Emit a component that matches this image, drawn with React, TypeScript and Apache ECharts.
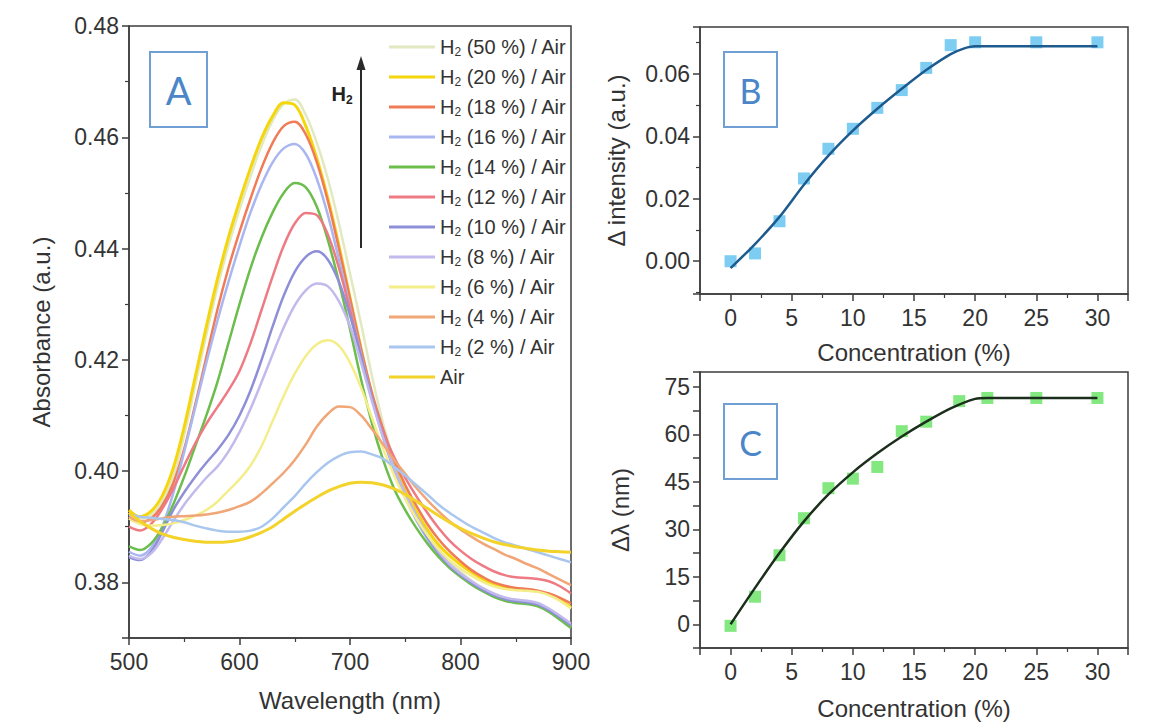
import React, { useEffect, useRef } from 'react';
import * as echarts from 'echarts';

// ---------- Panel A data ----------
const wavelengths = [500, 510, 520, 530, 540, 550, 560, 570, 580, 590, 600, 610, 620, 630, 640, 650, 660, 670, 680, 690, 700, 710, 720, 730, 740, 750, 760, 770, 780, 790, 800, 810, 820, 830, 840, 850, 860, 870, 880, 890, 900];

const abs50 = [0.3925, 0.3915, 0.3922, 0.3945, 0.3990, 0.4065, 0.4155, 0.4245, 0.4330, 0.4405, 0.4470, 0.4530, 0.4585, 0.4630, 0.4660, 0.4668, 0.4640, 0.4590, 0.4525, 0.4445, 0.4355, 0.4265, 0.4170, 0.4085, 0.4018, 0.3965, 0.3925, 0.3890, 0.3860, 0.3838, 0.3820, 0.3803, 0.3788, 0.3777, 0.3769, 0.3765, 0.3763, 0.3758, 0.3748, 0.3735, 0.3720];
const abs20 = [0.3930, 0.3918, 0.3928, 0.3955, 0.4005, 0.4080, 0.4170, 0.4260, 0.4345, 0.4420, 0.4485, 0.4545, 0.4598, 0.4638, 0.4662, 0.4658, 0.4620, 0.4562, 0.4490, 0.4405, 0.4312, 0.4220, 0.4135, 0.4065, 0.4010, 0.3965, 0.3928, 0.3895, 0.3868, 0.3848, 0.3832, 0.3818, 0.3806, 0.3797, 0.3791, 0.3788, 0.3786, 0.3784, 0.3778, 0.3768, 0.3755];
const abs18 = [0.3915, 0.3908, 0.3915, 0.3938, 0.3978, 0.4040, 0.4120, 0.4205, 0.4290, 0.4365, 0.4430, 0.4490, 0.4545, 0.4590, 0.4620, 0.4628, 0.4605, 0.4555, 0.4485, 0.4400, 0.4310, 0.4220, 0.4140, 0.4075, 0.4020, 0.3975, 0.3938, 0.3905, 0.3878, 0.3856, 0.3838, 0.3822, 0.3810, 0.3800, 0.3794, 0.3790, 0.3788, 0.3785, 0.3780, 0.3772, 0.3762];
const abs16 = [0.3855, 0.3848, 0.3862, 0.3900, 0.3960, 0.4035, 0.4115, 0.4195, 0.4270, 0.4340, 0.4405, 0.4465, 0.4515, 0.4555, 0.4580, 0.4588, 0.4570, 0.4525, 0.4460, 0.4380, 0.4295, 0.4210, 0.4130, 0.4060, 0.4000, 0.3952, 0.3912, 0.3878, 0.3850, 0.3828, 0.3812, 0.3798, 0.3786, 0.3776, 0.3769, 0.3765, 0.3763, 0.3759, 0.3749, 0.3736, 0.3722];
const abs14 = [0.3865, 0.3858, 0.3870, 0.3898, 0.3940, 0.3990, 0.4045, 0.4100, 0.4160, 0.4230, 0.4300, 0.4365, 0.4420, 0.4465, 0.4500, 0.4518, 0.4510, 0.4475, 0.4415, 0.4340, 0.4255, 0.4165, 0.4085, 0.4020, 0.3968, 0.3930, 0.3898, 0.3870, 0.3846, 0.3826, 0.3810, 0.3796, 0.3784, 0.3774, 0.3767, 0.3763, 0.3761, 0.3757, 0.3747, 0.3733, 0.3718];
const abs12 = [0.3900, 0.3893, 0.3905, 0.3932, 0.3968, 0.4010, 0.4050, 0.4085, 0.4115, 0.4145, 0.4180, 0.4230, 0.4290, 0.4350, 0.4405, 0.4445, 0.4464, 0.4460, 0.4425, 0.4365, 0.4290, 0.4205, 0.4130, 0.4070, 0.4025, 0.3988, 0.3955, 0.3925, 0.3898, 0.3875, 0.3857, 0.3842, 0.3830, 0.3820, 0.3813, 0.3809, 0.3808, 0.3806, 0.3802, 0.3793, 0.3780];
const abs10 = [0.3845, 0.3840, 0.3855, 0.3890, 0.3930, 0.3962, 0.3990, 0.4015, 0.4038, 0.4065, 0.4100, 0.4145, 0.4200, 0.4260, 0.4315, 0.4358, 0.4385, 0.4395, 0.4380, 0.4340, 0.4280, 0.4205, 0.4130, 0.4062, 0.4005, 0.3958, 0.3918, 0.3882, 0.3853, 0.3830, 0.3813, 0.3799, 0.3787, 0.3777, 0.3770, 0.3766, 0.3764, 0.3760, 0.3750, 0.3737, 0.3723];
const abs8 = [0.3848, 0.3842, 0.3852, 0.3878, 0.3910, 0.3940, 0.3965, 0.3988, 0.4008, 0.4035, 0.4070, 0.4112, 0.4160, 0.4210, 0.4258, 0.4298, 0.4325, 0.4337, 0.4332, 0.4305, 0.4260, 0.4195, 0.4125, 0.4060, 0.4005, 0.3960, 0.3921, 0.3885, 0.3856, 0.3833, 0.3816, 0.3802, 0.3790, 0.3780, 0.3773, 0.3769, 0.3767, 0.3763, 0.3753, 0.3740, 0.3726];
const abs6 = [0.3915, 0.3905, 0.3902, 0.3903, 0.3906, 0.3912, 0.3920, 0.3930, 0.3945, 0.3965, 0.3985, 0.4010, 0.4045, 0.4090, 0.4135, 0.4175, 0.4207, 0.4228, 0.4235, 0.4225, 0.4195, 0.4150, 0.4095, 0.4040, 0.3992, 0.3950, 0.3915, 0.3885, 0.3860, 0.3840, 0.3825, 0.3812, 0.3801, 0.3793, 0.3788, 0.3786, 0.3785, 0.3783, 0.3777, 0.3767, 0.3753];
const abs4 = [0.3918, 0.3910, 0.3912, 0.3915, 0.3918, 0.3919, 0.3920, 0.3922, 0.3925, 0.3930, 0.3937, 0.3945, 0.3960, 0.3978, 0.3997, 0.4020, 0.4048, 0.4080, 0.4103, 0.4116, 0.4115, 0.4100, 0.4075, 0.4048, 0.4020, 0.3995, 0.3970, 0.3948, 0.3928, 0.3910, 0.3895, 0.3882, 0.3870, 0.3860, 0.3850, 0.3842, 0.3833, 0.3825, 0.3815, 0.3805, 0.3795];
const abs2 = [0.3922, 0.3918, 0.3916, 0.3914, 0.3912, 0.3908, 0.3902, 0.3897, 0.3893, 0.3891, 0.3891, 0.3893, 0.3900, 0.3915, 0.3935, 0.3955, 0.3978, 0.3998, 0.4015, 0.4027, 0.4034, 0.4035, 0.4030, 0.4022, 0.4008, 0.3992, 0.3975, 0.3958, 0.3940, 0.3925, 0.3912, 0.3900, 0.3890, 0.3880, 0.3872, 0.3866, 0.3860, 0.3854, 0.3848, 0.3842, 0.3836];
const absAir = [0.3925, 0.3910, 0.3897, 0.3887, 0.3881, 0.3877, 0.3874, 0.3872, 0.3872, 0.3873, 0.3876, 0.3882, 0.3890, 0.3900, 0.3914, 0.3928, 0.3941, 0.3953, 0.3964, 0.3972, 0.3978, 0.3980, 0.3979, 0.3975, 0.3968, 0.3958, 0.3946, 0.3933, 0.3920, 0.3908, 0.3897, 0.3888, 0.3880, 0.3873, 0.3868, 0.3864, 0.3861, 0.3858, 0.3856, 0.3855, 0.3854];

const spectraNames = ['H2 (50 %) / Air', 'H2 (20 %) / Air', 'H2 (18 %) / Air', 'H2 (16 %) / Air', 'H2 (14 %) / Air', 'H2 (12 %) / Air', 'H2 (10 %) / Air', 'H2 (8 %) / Air', 'H2 (6 %) / Air', 'H2 (4 %) / Air', 'H2 (2 %) / Air', 'Air'];
const spectraValues = [abs50, abs20, abs18, abs16, abs14, abs12, abs10, abs8, abs6, abs4, abs2, absAir];
const spectraColors = ['#e2e8bf', '#f5d60c', '#f07c57', '#a9b6f0', '#6bbd4c', '#ee7a84', '#8f8fd8', '#c2b9ec', '#f3ee8a', '#f0a676', '#a9c7ee', '#f3d22a'];

// ---------- Panel B data ----------
const concB = [0, 2, 4, 6, 8, 10, 12, 14, 16, 18, 20, 25, 30];
const deltaIntensity = [0.0, 0.0025, 0.0128, 0.0265, 0.036, 0.0424, 0.0491, 0.0548, 0.0619, 0.0692, 0.0701, 0.0701, 0.0701];
const fitBx = [0, 2, 4, 6, 8, 10, 12, 14, 16, 18, 19, 20, 25, 30];
const fitBy = [-0.0022, 0.0055, 0.0142, 0.0245, 0.0338, 0.0418, 0.0488, 0.0552, 0.0612, 0.0663, 0.068, 0.0688, 0.0688, 0.0688];

// ---------- Panel C data ----------
const concC = [0, 2, 4, 6, 8, 10, 12, 14, 16, 18.7, 21, 25, 30];
const deltaLambda = [-0.5, 8.7, 21.8, 33.5, 43, 46, 49.7, 61, 64, 70.5, 71.5, 71.5, 71.5];
const fitCx = [0, 2, 4, 6, 8, 10, 12, 14, 16, 18, 20, 21, 25, 30];
const fitCy = [0, 11.5, 22.5, 32.5, 41, 48, 54, 59.3, 64, 68.2, 71.2, 71.5, 71.5, 71.5];

const FONT = '"Liberation Sans", Arial, sans-serif';
const AX = '#3c3c3c';
const TXT = '#333333';

function stepFormatter(step: number, digits: number, lo: number, hi: number) {
  return (v: number) => {
    const k = Math.round(v / step);
    if (Math.abs(v - k * step) > step * 1e-3) return '';
    if (v < lo - step * 1e-3 || v > hi + step * 1e-3) return '';
    return (k * step).toFixed(digits);
  };
}

function axisBase(minor: boolean) {
  return {
    type: 'value',
    axisLine: { show: true, onZero: false, lineStyle: { color: AX, width: 1.5 } },
    axisTick: { show: true, inside: false, length: 7, lineStyle: { color: AX, width: 1.5 } },
    minorTick: { show: minor, splitNumber: 2, length: 4, lineStyle: { color: AX, width: 1.2 } },
    splitLine: { show: false },
    minorSplitLine: { show: false },
    nameLocation: 'middle',
    nameTextStyle: { color: TXT, fontFamily: FONT, fontSize: 24 },
  };
}

function labelStyle(margin: number, formatter: any) {
  return { color: TXT, fontFamily: FONT, fontSize: 23, margin, formatter, showMinLabel: true, showMaxLabel: true };
}

export default function App() {
  const ref = useRef<HTMLDivElement>(null);

  useEffect(() => {
    if (!ref.current) return;
    const chart = echarts.init(ref.current, undefined, { renderer: 'svg' });

    const spectraSeries = spectraNames.map((name, i) => ({
      name,
      type: 'line',
      xAxisIndex: 0,
      yAxisIndex: 0,
      symbol: 'none',
      smooth: 0.35,
      data: wavelengths.map((w, j) => [w, spectraValues[i][j]]),
      lineStyle: { color: spectraColors[i], width: i === 1 || i === 11 ? 3 : 2.5 },
      itemStyle: { color: spectraColors[i] },
      z: 2,
    }));

    const option: any = {
      animation: false,
      backgroundColor: '#ffffff',
      grid: [
        { left: 129, top: 26, width: 442, height: 612, show: true, borderColor: AX, borderWidth: 1.5, backgroundColor: 'transparent' },
        { left: 700, top: 27, width: 428, height: 267, show: true, borderColor: AX, borderWidth: 1.5, backgroundColor: 'transparent' },
        { left: 700, top: 372, width: 428, height: 276, show: true, borderColor: AX, borderWidth: 1.5, backgroundColor: 'transparent' },
      ],
      xAxis: [
        {
          ...axisBase(true), gridIndex: 0, min: 500, max: 900, interval: 100,
          name: 'Wavelength (nm)', nameGap: 50,
          axisLabel: labelStyle(12, stepFormatter(100, 0, 500, 900)),
        },
        {
          ...axisBase(true), gridIndex: 1, min: -2.5, max: 32.5, splitNumber: 7, minInterval: 5, maxInterval: 5,
          name: 'Concentration (%)', nameGap: 46,
          axisLabel: labelStyle(12, stepFormatter(5, 0, 0, 30)),
        },
        {
          ...axisBase(true), gridIndex: 2, min: -2.5, max: 32.5, splitNumber: 7, minInterval: 5, maxInterval: 5,
          name: 'Concentration (%)', nameGap: 48,
          axisLabel: labelStyle(12, stepFormatter(5, 0, 0, 30)),
        },
      ],
      yAxis: [
        {
          ...axisBase(true), gridIndex: 0, min: 0.37, max: 0.48, splitNumber: 5,
          name: 'Absorbance (a.u.)', nameGap: 76,
          axisLabel: labelStyle(10, stepFormatter(0.02, 2, 0.38, 0.48)),
        },
        {
          ...axisBase(true), gridIndex: 1, min: -0.0105, max: 0.075, splitNumber: 4,
          name: 'Δ intensity (a.u.)', nameGap: 72,
          axisLabel: labelStyle(10, stepFormatter(0.02, 2, 0, 0.06)),
        },
        {
          ...axisBase(false), gridIndex: 2, min: -7.5, max: 79.7, interval: 7.5,
          name: 'Δλ (nm)', nameGap: 68,
          axisLabel: labelStyle(10, stepFormatter(15, 0, 0, 75)),
        },
      ],
      legend: {
        data: spectraNames,
        orient: 'vertical',
        left: 384,
        top: 32,
        icon: 'rect',
        itemWidth: 46,
        itemHeight: 3,
        itemGap: 9,
        selectedMode: false,
        formatter: (name: string) =>
          name.startsWith('H2') ? `{h|H}{s|2}{h|${name.slice(2)}}` : `{h|${name}}`,
        textStyle: {
          color: TXT,
          fontFamily: FONT,
          fontSize: 20,
          rich: {
            h: { color: TXT, fontFamily: FONT, fontSize: 20, lineHeight: 22 },
            s: { color: TXT, fontFamily: FONT, fontSize: 12, verticalAlign: 'bottom' },
          },
        },
      },
      series: [
        ...spectraSeries,
        {
          name: 'B points', type: 'scatter', xAxisIndex: 1, yAxisIndex: 1,
          symbol: 'rect', symbolSize: 12,
          itemStyle: { color: '#5cc0ef' },
          data: concB.map((c, i) => [c, deltaIntensity[i]]), z: 2,
        },
        {
          name: 'B fit', type: 'line', xAxisIndex: 1, yAxisIndex: 1,
          symbol: 'none', smooth: 0.3,
          lineStyle: { color: '#1d5a8e', width: 2.5 },
          data: fitBx.map((c, i) => [c, fitBy[i]]), z: 3,
        },
        {
          name: 'C points', type: 'scatter', xAxisIndex: 2, yAxisIndex: 2,
          symbol: 'rect', symbolSize: 12,
          itemStyle: { color: '#63e25f' },
          data: concC.map((c, i) => [c, deltaLambda[i]]), z: 2,
        },
        {
          name: 'C fit', type: 'line', xAxisIndex: 2, yAxisIndex: 2,
          symbol: 'none', smooth: 0.3,
          lineStyle: { color: '#1c2e1c', width: 2.5 },
          data: fitCx.map((c, i) => [c, fitCy[i]]), z: 3,
        },
      ],
      graphic: [
        { type: 'rect', shape: { x: 150, y: 52, width: 57, height: 75 }, style: { fill: 'none', stroke: '#6f9fd3', lineWidth: 2 }, z: 10 },
        { type: 'text', x: 178.5, y: 90, style: { text: 'A', fill: '#4a86c8', font: '38px Lato, "Open Sans", sans-serif', align: 'center', verticalAlign: 'middle' }, z: 10 },
        { type: 'rect', shape: { x: 724, y: 52, width: 53, height: 75 }, style: { fill: 'none', stroke: '#6f9fd3', lineWidth: 2 }, z: 10 },
        { type: 'text', x: 750.5, y: 90, style: { text: 'B', fill: '#4a86c8', font: '34px Lato, "Open Sans", sans-serif', align: 'center', verticalAlign: 'middle' }, z: 10 },
        { type: 'rect', shape: { x: 724, y: 404, width: 53, height: 75 }, style: { fill: 'none', stroke: '#6f9fd3', lineWidth: 2 }, z: 10 },
        { type: 'text', x: 750.5, y: 442, style: { text: 'C', fill: '#4a86c8', font: '34px Lato, "Open Sans", sans-serif', align: 'center', verticalAlign: 'middle' }, z: 10 },
        { type: 'line', shape: { x1: 361, y1: 248, x2: 361, y2: 66 }, style: { stroke: '#2a2a2a', lineWidth: 2 }, z: 10 },
        { type: 'polygon', shape: { points: [[356.5, 70], [361, 56], [365.5, 70]] }, style: { fill: '#2a2a2a' }, z: 10 },
        {
          type: 'text', x: 342, y: 94, z: 10,
          style: {
            text: '{h|H}{s|2}', align: 'center', verticalAlign: 'middle',
            rich: {
              h: { fontFamily: FONT, fontSize: 20, fontWeight: 'bold', fill: '#222', lineHeight: 24 },
              s: { fontFamily: FONT, fontSize: 12, fontWeight: 'bold', fill: '#222', verticalAlign: 'bottom' },
            },
          },
        },
      ],
    };

    chart.setOption(option);
    return () => chart.dispose();
  }, []);

  return (
    <div
      ref={ref}
      style={{ position: 'absolute', left: 0, top: 0, width: 1154, height: 725, background: '#fff' }}
    />
  );
}
